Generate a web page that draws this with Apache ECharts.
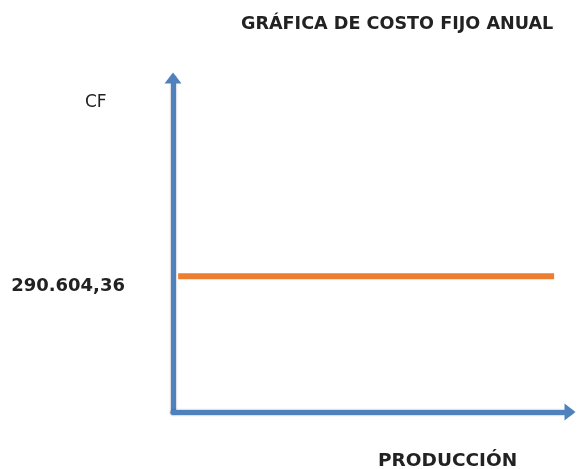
<!DOCTYPE html>
<html><head><meta charset="utf-8">
<script src="https://cdn.jsdelivr.net/npm/echarts@6/dist/echarts.min.js"></script>
<style>html,body{margin:0;padding:0;background:#fff}#c{width:577px;height:469px}</style>
</head><body><div id="c"></div>
<script>
const titleText = 'GRÁFICA DE COSTO FIJO ANUAL';
const xName = 'PRODUCCIÓN';
const yName = 'CF';
const costoFijo = 290604.36;
const produccion = [1.3, 96];
const cfValues = [costoFijo, costoFijo];
const yLabel = '290.604,36';

const font = '"DejaVu Sans", sans-serif';
const chart = echarts.init(document.getElementById('c'));
const axisLine = {
  show: true,
  symbol: ['none', 'triangle'],
  symbolSize: [17, 11],
  lineStyle: { color: '#4f81bd', width: 5, shadowColor: 'rgba(30,60,100,0.55)', shadowBlur: 2 }
};
chart.setOption({
  animation: false,
  backgroundColor: '#fff',
  title: [
    { text: titleText, left: 236, top: 10, textStyle: { fontFamily: font, fontSize: 17.6, fontWeight: 'bold', color: '#222' } },
    { text: yName, left: 80, top: 89, textStyle: { fontFamily: font, fontSize: 17, fontWeight: 'normal', color: '#222' } },
    { text: xName, left: 373, top: 447, textStyle: { fontFamily: font, fontSize: 18.5, fontWeight: 'bold', color: '#222' } }
  ],
  grid: { left: 173, right: 7, top: 78, bottom: 57, containLabel: false },
  xAxis: {
    type: 'value', min: 0, max: 100,
    axisLine: axisLine, axisTick: { show: false }, axisLabel: { show: false }, splitLine: { show: false }
  },
  yAxis: {
    type: 'value', min: 0, max: 715000, interval: costoFijo,
    axisLine: axisLine, axisTick: { show: false }, splitLine: { show: false },
    axisLabel: {
      margin: 48, fontFamily: font, fontSize: 18, fontWeight: 'bold', color: '#222',
      verticalAlign: 'top', padding: [1, 0, 0, 0],
      formatter: v => Math.abs(v - costoFijo) < 1 ? yLabel : ''
    }
  },
  series: [{
    type: 'line', data: produccion.map((x, i) => [x, cfValues[i]]),
    symbol: 'none', lineStyle: { color: '#ed7d31', width: 6 }, z: 1
  }]
});
</script></body></html>
